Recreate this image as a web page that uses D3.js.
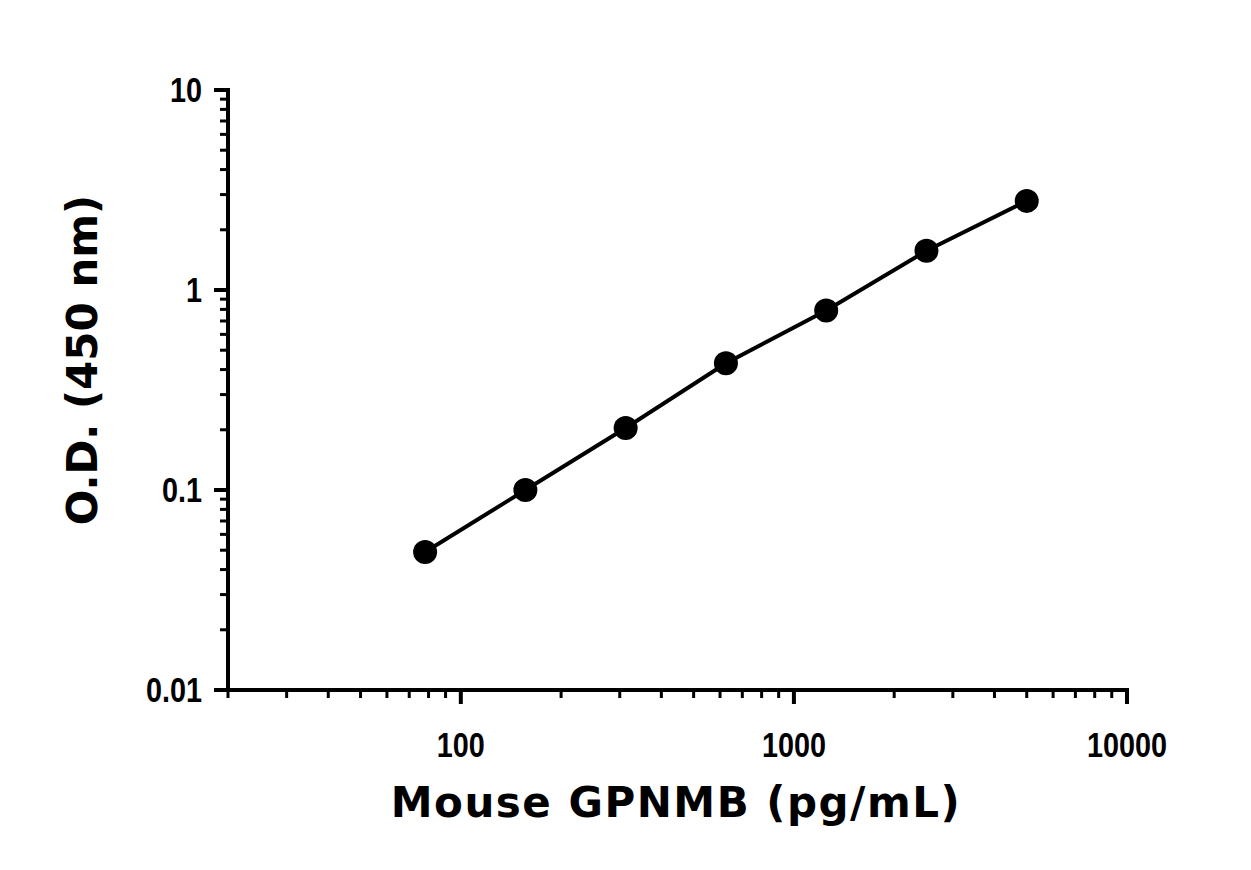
<!DOCTYPE html>
<html><head><meta charset="utf-8">
<script src="https://cdn.jsdelivr.net/npm/d3@7"></script>
<style>body{margin:0;background:#fff}</style>
</head><body><svg></svg>
<script>
// standard curve
var conc = [78.125, 156.25, 312.5, 625, 1250, 2500, 5000];
var od = [0.049, 0.1, 0.204, 0.43, 0.79, 1.57, 2.79];
var xTicks = [100, 1000, 10000];
var yTicks = [0.01, 0.1, 1, 10];
var yTickLabels = ["0.01", "0.1", "1", "10"];

var W = 1251, H = 870;
var svg = d3.select("svg").attr("width", W).attr("height", H);

var x = d3.scaleLog().domain([20, 10000]).range([228, 1127]);
var y = d3.scaleLog().domain([0.01, 10]).range([690, 90]);

var tickFont = "'Liberation Sans', Arial, sans-serif";
var titleFont = "'DejaVu Sans', sans-serif";

// minor ticks
var xMinor = [];
[10, 100, 1000].forEach(function(b){ for (var k = 2; k <= 9; k++) if (b*k >= 20) xMinor.push(b*k); });
var yMinor = [];
[0.01, 0.1, 1].forEach(function(b){ for (var k = 2; k <= 9; k++) yMinor.push(b*k); });

var ax = svg.append("g").attr("stroke", "#000").attr("stroke-width", 4);
ax.append("line").attr("x1", 228).attr("x2", 1129).attr("y1", 690).attr("y2", 690);
ax.append("line").attr("x1", 228).attr("x2", 228).attr("y1", 88).attr("y2", 692);

ax.selectAll(".xm").data(xMinor).enter().append("line")
  .attr("x1", d => x(d)).attr("x2", d => x(d)).attr("y1", 690).attr("y2", 698).attr("stroke-width", 3);
ax.selectAll(".xM").data(xTicks).enter().append("line")
  .attr("x1", d => x(d)).attr("x2", d => x(d)).attr("y1", 690).attr("y2", 704);
ax.selectAll(".ym").data(yMinor).enter().append("line")
  .attr("y1", d => y(d)).attr("y2", d => y(d)).attr("x1", 228).attr("x2", 220).attr("stroke-width", 3);
ax.selectAll(".yM").data(yTicks).enter().append("line")
  .attr("y1", d => y(d)).attr("y2", d => y(d)).attr("x1", 228).attr("x2", 214);

// condensed look: squeeze horizontally
svg.selectAll(".xl").data(xTicks).enter().append("text")
  .attr("transform", d => "translate(" + x(d) + ",757) scale(0.8,1)")
  .attr("text-anchor", "middle")
  .attr("font-family", tickFont).attr("font-weight", "bold").attr("font-size", 36)
  .text(d => d);
svg.selectAll(".yl").data(yTicks).enter().append("text")
  .attr("transform", d => "translate(202," + (y(d) + 12) + ") scale(0.8,1)")
  .attr("text-anchor", "end")
  .attr("font-family", tickFont).attr("font-weight", "bold").attr("font-size", 36)
  .text((d, i) => yTickLabels[i]);

// curve + points
var line = d3.line().x((d, i) => x(conc[i])).y(d => y(d));
svg.append("path").datum(od).attr("d", line).attr("fill", "none")
  .attr("stroke", "#000").attr("stroke-width", 4);
svg.selectAll("circle").data(od).enter().append("circle")
  .attr("cx", (d, i) => x(conc[i])).attr("cy", d => y(d)).attr("r", 12).attr("fill", "#000");

// titles
svg.append("text").attr("x", 676).attr("y", 817).attr("text-anchor", "middle")
  .attr("font-family", titleFont).attr("font-weight", "bold").attr("font-size", 42)
  .attr("letter-spacing", 1.5)
  .text("Mouse GPNMB (pg/mL)");
svg.append("text").attr("transform", "translate(97,360) rotate(-90)").attr("text-anchor", "middle")
  .attr("font-family", titleFont).attr("font-weight", "bold").attr("font-size", 42)
  .text("O.D. (450 nm)");
</script></body></html>
